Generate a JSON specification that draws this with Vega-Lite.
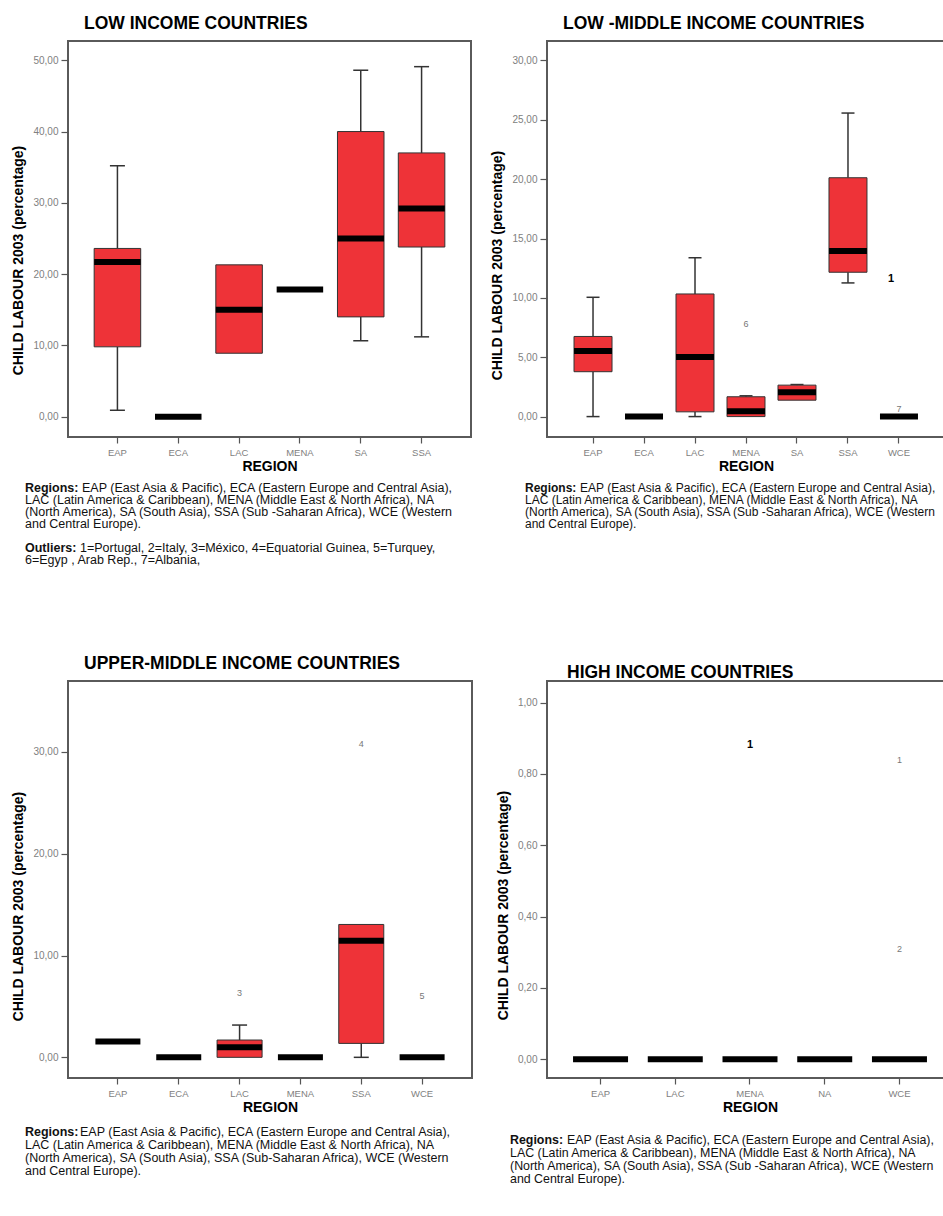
{
  "$schema": "https://vega.github.io/schema/vega-lite/v6.json",
  "padding": {"left": 10, "top": 13, "right": 0, "bottom": 0},
  "background": "white",
  "datasets": {
    "low_box": [
      {"region": "EAP", "lower": 0.9, "q1": 9.8, "median": 21.7, "q3": 23.6, "upper": 35.2},
      {"region": "ECA", "lower": null, "q1": null, "median": 0, "q3": null, "upper": null},
      {"region": "LAC", "lower": null, "q1": 8.9, "median": 15.0, "q3": 21.3, "upper": null},
      {"region": "MENA", "lower": null, "q1": null, "median": 17.85, "q3": null, "upper": null},
      {"region": "SA", "lower": 10.65, "q1": 14.0, "median": 25.0, "q3": 40.0, "upper": 48.6},
      {"region": "SSA", "lower": 11.2, "q1": 23.8, "median": 29.2, "q3": 37.0, "upper": 49.1}
    ],
    "lm_box": [
      {"region": "EAP", "lower": 0, "q1": 3.78, "median": 5.53, "q3": 6.75, "upper": 10.05},
      {"region": "ECA", "lower": null, "q1": null, "median": 0, "q3": null, "upper": null},
      {"region": "LAC", "lower": 0, "q1": 0.4, "median": 5.02, "q3": 10.33, "upper": 13.38},
      {"region": "MENA", "lower": null, "q1": 0, "median": 0.45, "q3": 1.67, "upper": 1.75},
      {"region": "SA", "lower": null, "q1": 1.38, "median": 2.05, "q3": 2.65, "upper": 2.7},
      {"region": "SSA", "lower": 11.26, "q1": 12.16, "median": 13.94, "q3": 20.12, "upper": 25.57},
      {"region": "WCE", "lower": null, "q1": null, "median": 0, "q3": null, "upper": null}
    ],
    "lm_out": [
      {"region": "MENA", "value": 7.8, "label": "6", "typed": false},
      {"region": "WCE", "value": 0.6, "label": "7", "typed": false},
      {"region": "WCE", "value": 11.6, "label": "1", "typed": true}
    ],
    "um_box": [
      {"region": "EAP", "lower": null, "q1": null, "median": 1.55, "q3": null, "upper": null},
      {"region": "ECA", "lower": null, "q1": null, "median": 0, "q3": null, "upper": null},
      {"region": "LAC", "lower": null, "q1": 0, "median": 0.98, "q3": 1.7, "upper": 3.17},
      {"region": "MENA", "lower": null, "q1": null, "median": 0, "q3": null, "upper": null},
      {"region": "SSA", "lower": 0, "q1": 1.37, "median": 11.45, "q3": 13.05, "upper": null},
      {"region": "WCE", "lower": null, "q1": null, "median": 0, "q3": null, "upper": null}
    ],
    "um_out": [
      {"region": "LAC", "value": 6.28, "label": "3", "typed": false},
      {"region": "SSA", "value": 30.8, "label": "4", "typed": false},
      {"region": "WCE", "value": 6.0, "label": "5", "typed": false}
    ],
    "hi_box": [
      {"region": "EAP", "median": 0},
      {"region": "LAC", "median": 0},
      {"region": "MENA", "median": 0},
      {"region": "NA", "median": 0},
      {"region": "WCE", "median": 0}
    ],
    "hi_out": [
      {"region": "MENA", "value": 0.882, "label": "1", "typed": true},
      {"region": "WCE", "value": 0.84, "label": "1", "typed": false},
      {"region": "WCE", "value": 0.31, "label": "2", "typed": false}
    ],
    "note_low": [
      {"line": 1, "lead": "Regions:", "text": "EAP (East Asia & Pacific), ECA (Eastern Europe and Central Asia),"},
      {"line": 2, "lead": "", "text": "LAC (Latin America & Caribbean), MENA (Middle East & North Africa), NA"},
      {"line": 3, "lead": "", "text": "(North America), SA (South Asia), SSA (Sub -Saharan Africa), WCE (Western"},
      {"line": 4, "lead": "", "text": "and Central Europe)."},
      {"line": 6, "lead": "Outliers:", "text": "1=Portugal, 2=Italy, 3=México, 4=Equatorial Guinea, 5=Turquey,"},
      {"line": 7, "lead": "", "text": "6=Egyp , Arab Rep., 7=Albania,"}
    ],
    "note_lm": [
      {"line": 1, "lead": "Regions:", "text": "EAP (East Asia & Pacific), ECA (Eastern Europe and Central Asia),"},
      {"line": 2, "lead": "", "text": "LAC (Latin America & Caribbean), MENA (Middle East & North Africa), NA"},
      {"line": 3, "lead": "", "text": "(North America), SA (South Asia), SSA (Sub -Saharan Africa), WCE (Western"},
      {"line": 4, "lead": "", "text": "and Central Europe)."}
    ],
    "note_um": [
      {"line": 1, "lead": "Regions:", "text": "EAP (East Asia & Pacific), ECA (Eastern Europe and Central Asia),"},
      {"line": 2, "lead": "", "text": "LAC (Latin America & Caribbean), MENA (Middle East & North Africa), NA"},
      {"line": 3, "lead": "", "text": "(North America), SA (South Asia), SSA (Sub-Saharan Africa), WCE (Western"},
      {"line": 4, "lead": "", "text": "and Central Europe)."}
    ],
    "note_hi": [
      {"line": 1, "lead": "Regions:", "text": "EAP (East Asia & Pacific), ECA (Eastern Europe and Central Asia),"},
      {"line": 2, "lead": "", "text": "LAC (Latin America & Caribbean), MENA (Middle East & North Africa), NA"},
      {"line": 3, "lead": "", "text": "(North America), SA (South Asia), SSA (Sub -Saharan Africa), WCE (Western"},
      {"line": 4, "lead": "", "text": "and Central Europe)."}
    ]
  },
  "columns": 2,
  "spacing": {"row": 45, "column": 75},
  "bounds": "flush",
  "align": "each",
  "concat": [
    {
      "width": 403, "height": 396,
      "title": {"text": "LOW INCOME COUNTRIES"},
      "data": {"name": "low_box"},
      "encoding": {"x": {"field": "region", "type": "nominal", "scale": {"domain": ["EAP", "ECA", "LAC", "MENA", "SA", "SSA"], "paddingInner": 0.235, "paddingOuter": 0.43}, "axis": {"title": "REGION"}}},
      "layer": [
        {"mark": {"type": "rule", "color": "#333", "strokeWidth": 1.5}, "encoding": {"y": {"field": "lower", "type": "quantitative", "scale": {"domain": [-2.85, 52.7], "nice": false, "zero": false}, "axis": {"values": [0, 10, 20, 30, 40, 50], "title": "CHILD LABOUR  2003 (percentage)", "titleY": 219, "labelExpr": "replace(format(datum.value, '.2f'), '.', ',')"}}, "y2": {"field": "q1"}}},
        {"mark": {"type": "rule", "color": "#333", "strokeWidth": 1.5}, "encoding": {"y": {"field": "q3", "type": "quantitative", "scale": {"domain": [-2.85, 52.7], "nice": false, "zero": false}, "axis": {"values": [0, 10, 20, 30, 40, 50], "title": "CHILD LABOUR  2003 (percentage)", "titleY": 219, "labelExpr": "replace(format(datum.value, '.2f'), '.', ',')"}}, "y2": {"field": "upper"}}},
        {"mark": {"type": "tick", "color": "#333", "size": 15, "thickness": 1.5}, "encoding": {"y": {"field": "lower", "type": "quantitative", "scale": {"domain": [-2.85, 52.7], "nice": false, "zero": false}, "axis": {"values": [0, 10, 20, 30, 40, 50], "title": "CHILD LABOUR  2003 (percentage)", "titleY": 219, "labelExpr": "replace(format(datum.value, '.2f'), '.', ',')"}}}},
        {"mark": {"type": "tick", "color": "#333", "size": 15, "thickness": 1.5}, "encoding": {"y": {"field": "upper", "type": "quantitative", "scale": {"domain": [-2.85, 52.7], "nice": false, "zero": false}, "axis": {"values": [0, 10, 20, 30, 40, 50], "title": "CHILD LABOUR  2003 (percentage)", "titleY": 219, "labelExpr": "replace(format(datum.value, '.2f'), '.', ',')"}}}},
        {"mark": {"type": "bar", "fill": "#ee3338", "stroke": "#333", "strokeWidth": 1}, "encoding": {"y": {"field": "q1", "type": "quantitative", "scale": {"domain": [-2.85, 52.7], "nice": false, "zero": false}, "axis": {"values": [0, 10, 20, 30, 40, 50], "title": "CHILD LABOUR  2003 (percentage)", "titleY": 219, "labelExpr": "replace(format(datum.value, '.2f'), '.', ',')"}}, "y2": {"field": "q3"}}},
        {"mark": {"type": "tick", "color": "#000", "size": 46.5, "thickness": 6}, "encoding": {"y": {"field": "median", "type": "quantitative", "scale": {"domain": [-2.85, 52.7], "nice": false, "zero": false}, "axis": {"values": [0, 10, 20, 30, 40, 50], "title": "CHILD LABOUR  2003 (percentage)", "titleY": 219, "labelExpr": "replace(format(datum.value, '.2f'), '.', ',')"}}}}
      ]
    },
    {
      "width": 398, "height": 396,
      "title": {"text": "LOW -MIDDLE INCOME COUNTRIES"},
      "encoding": {"x": {"field": "region", "type": "nominal", "scale": {"domain": ["EAP", "ECA", "LAC", "MENA", "SA", "SSA", "WCE"], "paddingInner": 0.255, "paddingOuter": 0.53}, "axis": {"title": "REGION"}}},
      "layer": [
        {"data": {"name": "lm_box"}, "mark": {"type": "rule", "color": "#333", "strokeWidth": 1.5}, "encoding": {"y": {"field": "lower", "type": "quantitative", "scale": {"domain": [-1.72, 31.64], "nice": false, "zero": false}, "axis": {"values": [0, 5, 10, 15, 20, 25, 30], "title": "CHILD LABOUR  2003 (percentage)", "titleY": 224, "labelExpr": "replace(format(datum.value, '.2f'), '.', ',')"}}, "y2": {"field": "q1"}}},
        {"data": {"name": "lm_box"}, "mark": {"type": "rule", "color": "#333", "strokeWidth": 1.5}, "encoding": {"y": {"field": "q3", "type": "quantitative", "scale": {"domain": [-1.72, 31.64], "nice": false, "zero": false}, "axis": {"values": [0, 5, 10, 15, 20, 25, 30], "title": "CHILD LABOUR  2003 (percentage)", "titleY": 224, "labelExpr": "replace(format(datum.value, '.2f'), '.', ',')"}}, "y2": {"field": "upper"}}},
        {"data": {"name": "lm_box"}, "mark": {"type": "tick", "color": "#333", "size": 13, "thickness": 1.5}, "encoding": {"y": {"field": "lower", "type": "quantitative", "scale": {"domain": [-1.72, 31.64], "nice": false, "zero": false}, "axis": {"values": [0, 5, 10, 15, 20, 25, 30], "title": "CHILD LABOUR  2003 (percentage)", "titleY": 224, "labelExpr": "replace(format(datum.value, '.2f'), '.', ',')"}}}},
        {"data": {"name": "lm_box"}, "mark": {"type": "tick", "color": "#333", "size": 13, "thickness": 1.5}, "encoding": {"y": {"field": "upper", "type": "quantitative", "scale": {"domain": [-1.72, 31.64], "nice": false, "zero": false}, "axis": {"values": [0, 5, 10, 15, 20, 25, 30], "title": "CHILD LABOUR  2003 (percentage)", "titleY": 224, "labelExpr": "replace(format(datum.value, '.2f'), '.', ',')"}}}},
        {"data": {"name": "lm_box"}, "mark": {"type": "bar", "fill": "#ee3338", "stroke": "#333", "strokeWidth": 1}, "encoding": {"y": {"field": "q1", "type": "quantitative", "scale": {"domain": [-1.72, 31.64], "nice": false, "zero": false}, "axis": {"values": [0, 5, 10, 15, 20, 25, 30], "title": "CHILD LABOUR  2003 (percentage)", "titleY": 224, "labelExpr": "replace(format(datum.value, '.2f'), '.', ',')"}}, "y2": {"field": "q3"}}},
        {"data": {"name": "lm_box"}, "mark": {"type": "tick", "color": "#000", "size": 38, "thickness": 6}, "encoding": {"y": {"field": "median", "type": "quantitative", "scale": {"domain": [-1.72, 31.64], "nice": false, "zero": false}, "axis": {"values": [0, 5, 10, 15, 20, 25, 30], "title": "CHILD LABOUR  2003 (percentage)", "titleY": 224, "labelExpr": "replace(format(datum.value, '.2f'), '.', ',')"}}}},
        {"data": {"name": "lm_out"}, "transform": [{"filter": "!datum.typed"}], "mark": {"type": "text", "fontSize": 9, "color": "#777", "baseline": "middle"}, "encoding": {"y": {"field": "value", "type": "quantitative", "scale": {"domain": [-1.72, 31.64], "nice": false, "zero": false}, "axis": {"values": [0, 5, 10, 15, 20, 25, 30], "title": "CHILD LABOUR  2003 (percentage)", "titleY": 224, "labelExpr": "replace(format(datum.value, '.2f'), '.', ',')"}}, "text": {"field": "label"}}},
        {"data": {"name": "lm_out"}, "transform": [{"filter": "datum.typed"}], "mark": {"type": "text", "fontSize": 11, "fontWeight": "bold", "color": "#000", "baseline": "middle", "dx": -8}, "encoding": {"y": {"field": "value", "type": "quantitative", "scale": {"domain": [-1.72, 31.64], "nice": false, "zero": false}, "axis": {"values": [0, 5, 10, 15, 20, 25, 30], "title": "CHILD LABOUR  2003 (percentage)", "titleY": 224, "labelExpr": "replace(format(datum.value, '.2f'), '.', ',')"}}, "text": {"field": "label"}}}
      ]
    },
    {
      "width": 403, "height": 154,
      "view": {"stroke": null},
      "data": {"name": "note_low"},
      "encoding": {
        "x": {"datum": 0, "type": "quantitative", "scale": {"domain": [0, 1]}, "axis": null},
        "y": {"field": "line", "type": "quantitative", "scale": {"domain": [0.5, 13.333], "reverse": true, "nice": false, "zero": false}, "axis": null}
      },
      "layer": [
        {"transform": [{"filter": "datum.lead != ''"}], "mark": {"type": "text", "align": "left", "baseline": "middle", "fontSize": 12.5, "fontWeight": "bold", "color": "#111", "dx": -43}, "encoding": {"text": {"field": "lead"}}},
        {"transform": [{"filter": "datum.lead == 'Regions:'"}], "mark": {"type": "text", "align": "left", "baseline": "middle", "fontSize": 12.5, "color": "#111", "dx": 14}, "encoding": {"text": {"field": "text"}}},
        {"transform": [{"filter": "datum.lead == 'Outliers:'"}], "mark": {"type": "text", "align": "left", "baseline": "middle", "fontSize": 12.5, "color": "#111", "dx": 12}, "encoding": {"text": {"field": "text"}}},
        {"transform": [{"filter": "datum.lead == ''"}], "mark": {"type": "text", "align": "left", "baseline": "middle", "fontSize": 12.5, "color": "#111", "dx": -43}, "encoding": {"text": {"field": "text"}}}
      ]
    },
    {
      "width": 398, "height": 154,
      "view": {"stroke": null},
      "data": {"name": "note_lm"},
      "encoding": {
        "x": {"datum": 0, "type": "quantitative", "scale": {"domain": [0, 1]}, "axis": null},
        "y": {"field": "line", "type": "quantitative", "scale": {"domain": [0.5, 13.333], "reverse": true, "nice": false, "zero": false}, "axis": null}
      },
      "layer": [
        {"transform": [{"filter": "datum.lead != ''"}], "mark": {"type": "text", "align": "left", "baseline": "middle", "fontSize": 12, "fontWeight": "bold", "color": "#111", "dx": -22}, "encoding": {"text": {"field": "lead"}}},
        {"transform": [{"filter": "datum.lead == 'Regions:'"}], "mark": {"type": "text", "align": "left", "baseline": "middle", "fontSize": 12, "color": "#111", "dx": 33}, "encoding": {"text": {"field": "text"}}},
        {"transform": [{"filter": "datum.lead == ''"}], "mark": {"type": "text", "align": "left", "baseline": "middle", "fontSize": 12, "color": "#111", "dx": -22}, "encoding": {"text": {"field": "text"}}}
      ]
    },
    {
      "width": 404, "height": 397,
      "title": {"text": "UPPER-MIDDLE INCOME COUNTRIES"},
      "encoding": {"x": {"field": "region", "type": "nominal", "scale": {"domain": ["EAP", "ECA", "LAC", "MENA", "SSA", "WCE"], "paddingInner": 0.26, "paddingOuter": 0.45}, "axis": {"title": "REGION"}}},
      "layer": [
        {"data": {"name": "um_box"}, "mark": {"type": "rule", "color": "#333", "strokeWidth": 1.5}, "encoding": {"y": {"field": "lower", "type": "quantitative", "scale": {"domain": [-2.03, 36.96], "nice": false, "zero": false}, "axis": {"values": [0, 10, 20, 30], "title": "CHILD LABOUR  2003 (percentage)", "titleY": 225, "labelExpr": "replace(format(datum.value, '.2f'), '.', ',')"}}, "y2": {"field": "q1"}}},
        {"data": {"name": "um_box"}, "mark": {"type": "rule", "color": "#333", "strokeWidth": 1.5}, "encoding": {"y": {"field": "q3", "type": "quantitative", "scale": {"domain": [-2.03, 36.96], "nice": false, "zero": false}, "axis": {"values": [0, 10, 20, 30], "title": "CHILD LABOUR  2003 (percentage)", "titleY": 225, "labelExpr": "replace(format(datum.value, '.2f'), '.', ',')"}}, "y2": {"field": "upper"}}},
        {"data": {"name": "um_box"}, "mark": {"type": "tick", "color": "#333", "size": 15, "thickness": 1.5}, "encoding": {"y": {"field": "lower", "type": "quantitative", "scale": {"domain": [-2.03, 36.96], "nice": false, "zero": false}, "axis": {"values": [0, 10, 20, 30], "title": "CHILD LABOUR  2003 (percentage)", "titleY": 225, "labelExpr": "replace(format(datum.value, '.2f'), '.', ',')"}}}},
        {"data": {"name": "um_box"}, "mark": {"type": "tick", "color": "#333", "size": 15, "thickness": 1.5}, "encoding": {"y": {"field": "upper", "type": "quantitative", "scale": {"domain": [-2.03, 36.96], "nice": false, "zero": false}, "axis": {"values": [0, 10, 20, 30], "title": "CHILD LABOUR  2003 (percentage)", "titleY": 225, "labelExpr": "replace(format(datum.value, '.2f'), '.', ',')"}}}},
        {"data": {"name": "um_box"}, "mark": {"type": "bar", "fill": "#ee3338", "stroke": "#333", "strokeWidth": 1}, "encoding": {"y": {"field": "q1", "type": "quantitative", "scale": {"domain": [-2.03, 36.96], "nice": false, "zero": false}, "axis": {"values": [0, 10, 20, 30], "title": "CHILD LABOUR  2003 (percentage)", "titleY": 225, "labelExpr": "replace(format(datum.value, '.2f'), '.', ',')"}}, "y2": {"field": "q3"}}},
        {"data": {"name": "um_box"}, "mark": {"type": "tick", "color": "#000", "size": 45, "thickness": 6}, "encoding": {"y": {"field": "median", "type": "quantitative", "scale": {"domain": [-2.03, 36.96], "nice": false, "zero": false}, "axis": {"values": [0, 10, 20, 30], "title": "CHILD LABOUR  2003 (percentage)", "titleY": 225, "labelExpr": "replace(format(datum.value, '.2f'), '.', ',')"}}}},
        {"data": {"name": "um_out"}, "mark": {"type": "text", "fontSize": 9, "color": "#777", "baseline": "middle"}, "encoding": {"y": {"field": "value", "type": "quantitative", "scale": {"domain": [-2.03, 36.96], "nice": false, "zero": false}, "axis": {"values": [0, 10, 20, 30], "title": "CHILD LABOUR  2003 (percentage)", "titleY": 225, "labelExpr": "replace(format(datum.value, '.2f'), '.', ',')"}}, "text": {"field": "label"}}}
      ]
    },
    {
      "width": 406, "height": 397,
      "title": {"text": "HIGH INCOME COUNTRIES", "dx": 20, "offset": 0},
      "encoding": {"x": {"field": "region", "type": "nominal", "scale": {"domain": ["EAP", "LAC", "MENA", "NA", "WCE"], "paddingInner": 0.257, "paddingOuter": 0.345}, "axis": {"title": "REGION"}}},
      "layer": [
        {"data": {"name": "hi_box"}, "mark": {"type": "tick", "color": "#000", "size": 55, "thickness": 6}, "encoding": {"y": {"field": "median", "type": "quantitative", "scale": {"domain": [-0.0524, 1.0606], "nice": false, "zero": false}, "axis": {"values": [0, 0.2, 0.4, 0.6, 0.8, 1.0], "title": "CHILD LABOUR  2003 (percentage)", "titleY": 224, "labelExpr": "replace(format(datum.value, '.2f'), '.', ',')"}}}},
        {"data": {"name": "hi_out"}, "transform": [{"filter": "!datum.typed"}], "mark": {"type": "text", "fontSize": 9, "color": "#777", "baseline": "middle"}, "encoding": {"y": {"field": "value", "type": "quantitative", "scale": {"domain": [-0.0524, 1.0606], "nice": false, "zero": false}, "axis": {"values": [0, 0.2, 0.4, 0.6, 0.8, 1.0], "title": "CHILD LABOUR  2003 (percentage)", "titleY": 224, "labelExpr": "replace(format(datum.value, '.2f'), '.', ',')"}}, "text": {"field": "label"}}},
        {"data": {"name": "hi_out"}, "transform": [{"filter": "datum.typed"}], "mark": {"type": "text", "fontSize": 11, "fontWeight": "bold", "color": "#000", "baseline": "middle"}, "encoding": {"y": {"field": "value", "type": "quantitative", "scale": {"domain": [-0.0524, 1.0606], "nice": false, "zero": false}, "axis": {"values": [0, 0.2, 0.4, 0.6, 0.8, 1.0], "title": "CHILD LABOUR  2003 (percentage)", "titleY": 224, "labelExpr": "replace(format(datum.value, '.2f'), '.', ',')"}}, "text": {"field": "label"}}}
      ]
    },
    {
      "width": 404, "height": 52,
      "view": {"stroke": null},
      "data": {"name": "note_um"},
      "encoding": {
        "x": {"datum": 0, "type": "quantitative", "scale": {"domain": [0, 1]}, "axis": null},
        "y": {"field": "line", "type": "quantitative", "scale": {"domain": [0.308, 4.308], "reverse": true, "nice": false, "zero": false}, "axis": null}
      },
      "layer": [
        {"transform": [{"filter": "datum.lead != ''"}], "mark": {"type": "text", "align": "left", "baseline": "middle", "fontSize": 12.5, "fontWeight": "bold", "color": "#111", "dx": -43}, "encoding": {"text": {"field": "lead"}}},
        {"transform": [{"filter": "datum.lead == 'Regions:'"}], "mark": {"type": "text", "align": "left", "baseline": "middle", "fontSize": 12.5, "color": "#111", "dx": 12}, "encoding": {"text": {"field": "text"}}},
        {"transform": [{"filter": "datum.lead == ''"}], "mark": {"type": "text", "align": "left", "baseline": "middle", "fontSize": 12.5, "color": "#111", "dx": -43}, "encoding": {"text": {"field": "text"}}}
      ]
    },
    {
      "width": 406, "height": 52,
      "view": {"stroke": null},
      "data": {"name": "note_hi"},
      "encoding": {
        "x": {"datum": 0, "type": "quantitative", "scale": {"domain": [0, 1]}, "axis": null},
        "y": {"field": "line", "type": "quantitative", "scale": {"domain": [-0.308, 3.692], "reverse": true, "nice": false, "zero": false}, "axis": null}
      },
      "layer": [
        {"transform": [{"filter": "datum.lead != ''"}], "mark": {"type": "text", "align": "left", "baseline": "middle", "fontSize": 12.4, "fontWeight": "bold", "color": "#111", "dx": -37}, "encoding": {"text": {"field": "lead"}}},
        {"transform": [{"filter": "datum.lead == 'Regions:'"}], "mark": {"type": "text", "align": "left", "baseline": "middle", "fontSize": 12.4, "color": "#111", "dx": 20}, "encoding": {"text": {"field": "text"}}},
        {"transform": [{"filter": "datum.lead == ''"}], "mark": {"type": "text", "align": "left", "baseline": "middle", "fontSize": 12.4, "color": "#111", "dx": -37}, "encoding": {"text": {"field": "text"}}}
      ]
    }
  ],
  "config": {
    "font": "Liberation Sans",
    "view": {"stroke": "#5a5a5a", "strokeWidth": 2},
    "tick": {"opacity": 1},
    "bar": {"opacity": 1},
    "axis": {"domain": false, "grid": false, "tickColor": "#555", "tickWidth": 1.2, "labelColor": "#808080", "labelFont": "Liberation Sans", "labelFontSize": 10, "titleFont": "Liberation Sans", "titleFontSize": 14, "titleFontWeight": "bold", "titleColor": "#000"},
    "axisX": {"tickSize": 6, "labelPadding": 4, "titlePadding": 3, "labelAngle": 0, "labelFontSize": 9.5},
    "axisY": {"tickSize": 7, "labelPadding": 3, "titlePadding": 7},
    "title": {"font": "Liberation Sans", "fontSize": 17.5, "fontWeight": "bold", "color": "#000", "anchor": "start", "frame": "group", "dx": 16, "offset": 9},
    "text": {"font": "Liberation Sans"}
  }
}
